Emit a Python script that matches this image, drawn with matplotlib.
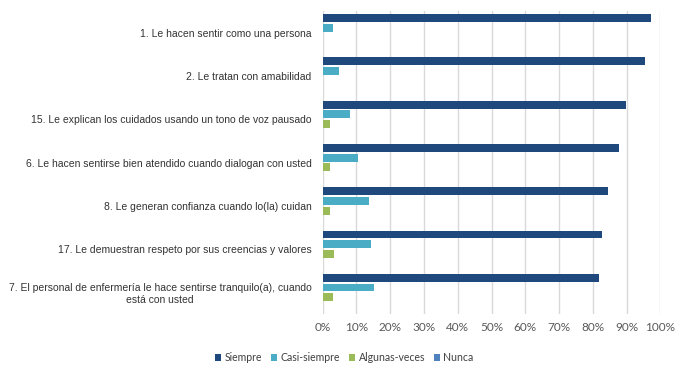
import numpy as np
from matplotlib import pyplot as plt
from matplotlib.patches import Patch
from matplotlib.ticker import PercentFormatter

# preguntas, de arriba hacia abajo
preguntas = [
    '1. Le hacen sentir como una persona',
    '2. Le tratan con amabilidad',
    '15. Le explican los cuidados usando un tono de voz pausado',
    '6. Le hacen sentirse bien atendido cuando dialogan con usted',
    '8. Le generan confianza cuando lo(la) cuidan',
    '17. Le demuestran respeto por sus creencias y valores',
    '7. El personal de enfermería le hace sentirse tranquilo(a), cuando\nestá con usted',
]
siempre = [97.3, 95.4, 89.9, 87.7, 84.4, 82.8, 81.9]
casi_siempre = [3.0, 4.9, 8.1, 10.5, 13.8, 14.2, 15.3]
algunas_veces = [0.0, 0.0, 2.1, 2.3, 2.1, 3.3, 3.1]
nunca = [0, 0, 0, 0, 0, 0, 0]

series = ['Siempre', 'Casi-siempre', 'Algunas-veces', 'Nunca']
colores = ['#1F497D', '#4BACC6', '#9BBB59', '#4F81BD']

fig = plt.figure(figsize=(6.82, 3.74), dpi=100)
ax = fig.add_axes([0.4732, 0.1604, 0.495, 0.8102])

y = np.arange(len(preguntas))
offsets = [-0.3375, -0.1125, 0.1125, 0.3375]
for vals, off, col in zip([siempre, casi_siempre, algunas_veces, nunca], offsets, colores):
    ax.barh(y + off, vals, height=0.18, color=col, zorder=3)

ax.set_ylim(len(preguntas) - 0.5, -0.5)
ax.set_xlim(0, 100)
ax.set_xticks(np.arange(0, 101, 10))
ax.xaxis.set_major_formatter(PercentFormatter(decimals=0))
ax.set_yticks(y)
ax.set_yticklabels(preguntas, fontsize=7.5, family='Liberation Sans', color='#333333',
                   multialignment='center')
ax.tick_params(axis='y', length=0, pad=8)
ax.tick_params(axis='x', length=0, pad=6, labelsize=8.5, labelcolor='#595959')
for lbl in ax.get_xticklabels():
    lbl.set_family('Lato')

ax.xaxis.grid(True, color='#D9D9D9', linewidth=1, zorder=0)
for s in ax.spines.values():
    s.set_visible(False)

handles = [Patch(facecolor=c, label=s) for s, c in zip(series, colores)]
fig.legend(handles=handles, loc='center', bbox_to_anchor=(0.505, 0.043), ncol=4, frameon=False,
           prop={'family': 'Lato', 'size': 7.6}, handlelength=0.6, handleheight=0.6,
           handletextpad=0.3, columnspacing=0.85, labelcolor='#404040')

plt.savefig('out.png', dpi=100)
